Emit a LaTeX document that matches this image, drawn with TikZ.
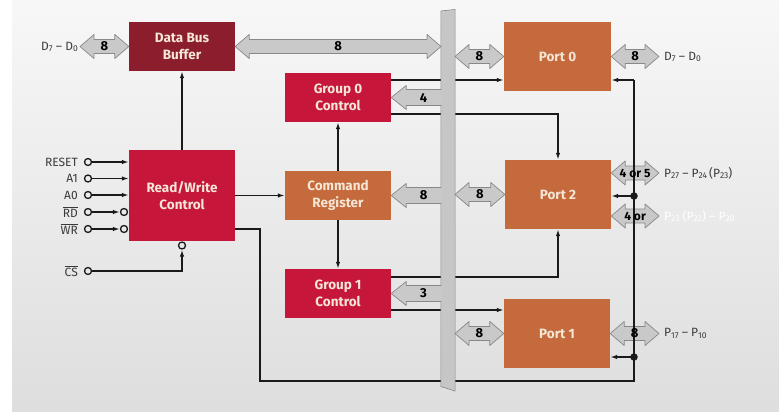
\documentclass[tikz,border=0pt]{standalone}
\usepackage{fontspec}
\setmainfont{Fira Sans}
\usetikzlibrary{calc,arrows.meta}
\definecolor{dbbred}{HTML}{8C1D2C}
\definecolor{crim}{HTML}{C6173B}
\definecolor{ornge}{HTML}{C46A3C}
\definecolor{cream}{HTML}{F6E6D6}
\definecolor{arrgray}{HTML}{C9C9C9}
\definecolor{arrline}{HTML}{888888}
\definecolor{busgray}{HTML}{C6C6C6}
\definecolor{labgray}{HTML}{3A3A3A}
\definecolor{lnblack}{HTML}{1A1A1A}
\pgfdeclarelayer{fg}
\pgfsetlayers{main,fg}
\newcommand\sub[1]{\raisebox{-0.2ex}{\fontsize{8.5}{9}\selectfont#1}}
\tikzset{
  box/.style={rectangle, inner sep=0pt, minimum width=106pt, text=cream, align=center,
    font=\fontsize{13.5}{17.5}\selectfont\bfseries},
  ln/.style={draw=lnblack, line width=1.4pt, -{Latex[length=7pt,width=4.5pt]}},
  plain/.style={draw=lnblack, line width=1.4pt},
  fat/.style={fill=arrgray, draw=arrline, line width=0.7pt, line join=round},
  fatlab/.style={inner sep=0pt, font=\fontsize{13}{13}\selectfont\bfseries, text=black},
  smalllab/.style={inner sep=0pt, font=\fontsize{12}{12}\selectfont\bfseries, text=black},
  lab/.style={inner sep=0pt, font=\fontsize{12}{14}\selectfont, text=labgray},
  pinc/.style={circle, draw=lnblack, line width=1.3pt, inner sep=0pt, minimum size=7pt},
  dotc/.style={circle, fill=lnblack, inner sep=0pt, minimum size=7.5pt}
}
\newcommand\fatdbl[5][fatlab]{%
  \path[fat] let \p1=(#2), \p2=(#3) in
    (\x1,\y1) -- (\x1+14pt,\y1+12pt) -- (\x1+14pt,\y1+7pt) -- (\x2-14pt,\y1+7pt)
    -- (\x2-14pt,\y1+12pt) -- (\x2,\y1) -- (\x2-14pt,\y1-12pt) -- (\x2-14pt,\y1-7pt)
    -- (\x1+14pt,\y1-7pt) -- (\x1+14pt,\y1-12pt) -- cycle;
  \begin{pgfonlayer}{fg}\node[#1] (#4) at ($(#2)!0.5!(#3)$) {#5};\end{pgfonlayer}}
\newcommand\fatsgl[4]{%
  \path[fat] let \p1=(#1), \p2=(#2) in
    (\x1+3pt,\y1+8pt) -- (\x2+15pt,\y1+8pt) -- (\x2+15pt,\y1+12pt) -- (\x2,\y1)
    -- (\x2+15pt,\y1-12pt) -- (\x2+15pt,\y1-8pt) -- (\x1+3pt,\y1-8pt) -- cycle;
  \begin{pgfonlayer}{fg}\node[fatlab] (#3) at ($(#1)!0.5!(#2)+(7.5,0)$) {#4};\end{pgfonlayer}}
\begin{document}
\begin{tikzpicture}[x=1pt,y=-1pt]
\useasboundingbox (0,0) rectangle (779,412);
\fill[white] (0,0) rectangle (779,412);
\shade[top color=black!3, bottom color=black!13] (12,0) rectangle (779,412);

% boxes
\node[box, fill=dbbred, minimum height=49pt] (DBB) at (182,46.5) {Data Bus\\Buffer};
\node[box, fill=crim, minimum height=91pt] (RW) at (182,195.5) {Read/Write\\Control};
\node[box, fill=crim, minimum height=49pt] (G0) at (338,97.5) {Group 0\\Control};
\node[box, fill=ornge, minimum height=49pt] (CR) at (338,195.5) {Command\\Register};
\node[box, fill=crim, minimum height=49pt] (G1) at (338,293.5) {Group 1\\Control};
\node[box, fill=ornge, minimum height=69pt, minimum width=107pt] (P0) at (557.5,56.5) {Port 0};
\node[box, fill=ornge, minimum height=69pt] (P2) at (558,194.5) {Port 2};
\node[box, fill=ornge, minimum height=69pt] (P1) at (557,333.5) {Port 1};

% helper coordinates
\coordinate (busL) at (441,0);
\coordinate (busR) at (455,0);
\coordinate (Xout) at (659,0);
\coordinate (Xin) at (80,46.5);
\coordinate (X260) at (260,0);
\coordinate (L80) at (0,80);
\coordinate (L114) at (0,114);
\coordinate (L229) at (0,229);
\coordinate (L277) at (0,277);
\coordinate (L310) at (0,310);
\coordinate (Y173) at (0,173);
\coordinate (Y216) at (0,216);
\coordinate (Vtop) at (634,80);
\coordinate (Vbot) at (634,381);

% inputs
\node[pinc] (rst) at (88,162) {};
\node[pinc] (a1) at (88,178.5) {};
\node[pinc] (a0) at (88,195) {};
\node[pinc] (rd) at (88,212) {};
\node[pinc] (wr) at (88,229) {};
\node[pinc] (rdb) at (124,212) {};
\node[pinc] (wrb) at (124,229) {};
\node[pinc] (cs) at (88,271) {};
\node[pinc] (csb) at (182,245.5) {};
\node[lab, anchor=east] (trst) at (78,162) {RESET};
\node[lab, anchor=east] (ta1) at (78,178.5) {A1};
\node[lab, anchor=east] (ta0) at (78,195) {A0};
\node[lab, anchor=east] (trd) at (78,212) {$\overline{\mbox{RD}}$};
\node[lab, anchor=east] (twr) at (78,229) {$\overline{\mbox{WR}}$};
\node[lab, anchor=east] (tcs) at (78,271) {$\overline{\mbox{CS}}$};
\draw[ln] (rst) -- (RW.west |- rst);
\draw[ln] (a1) -- (RW.west |- a1);
\draw[ln] (a0) -- (RW.west |- a0);
\draw[ln] (rd) -- (rdb);
\draw[ln] (wr) -- (wrb);
\draw[ln] (cs) -| (csb);

% internal connectors
\draw[ln] (RW.north) -- (DBB.south);
\draw[ln] (RW.east) -- (CR.west);
\draw[ln] (CR.north) -- (G0.south);
\draw[ln] (CR.south) -- (G1.north);
\draw[ln] (G0.east |- L80) -- (P0.west |- L80);
\draw[ln] (G0.east |- L114) -| (P2.north);
\draw[ln] (G1.east |- L277) -| (P2.south);
\draw[ln] (G1.east |- L310) -- (P1.west |- L310);
\draw[plain] (RW.east |- L229) -| (X260 |- Vbot) -- (Vbot) -- (Vtop);

% bus
\path[fill=busgray, draw=arrline, line width=0.7pt] (441,11) -- (455,9.5) -- (455,391) -- (441,386.5) -- cycle;
\fatsgl{busL |- G0.east}{G0.east}{b4}{4}
\fatsgl{busL |- CR.east}{CR.east}{b8c}{8}
\fatsgl{busL |- G1.east}{G1.east}{b3}{3}
\fill[busgray] (441.35,11.6) -- (454.65,10.1) -- (454.65,390.4) -- (441.35,385.9) -- cycle;

% double fat arrows
\fatdbl{Xin}{DBB.west}{bd}{8}
\fatdbl{DBB.east}{busL |- DBB.east}{bbig}{8}
\fatdbl{busR |- P0.west}{P0.west}{bp0}{8}
\fatdbl{busR |- P2.west}{P2.west}{bp2}{8}
\fatdbl{busR |- P1.west}{P1.west}{bp1}{8}
\fatdbl{P0.east}{Xout |- P0.east}{op0}{8}
\fatdbl[smalllab]{P2.east |- Y173}{Xout |- Y173}{op2a}{4 or 5}
\fatdbl[smalllab]{P2.east |- Y216}{Xout |- Y216}{op2b}{4 or}
\fatdbl{P1.east}{Xout |- P1.east}{op1}{8}

% right side control lines
\draw[plain, -] (Vtop) -- (Vbot);
\draw[ln] (Vtop) -- (P0.east |- Vtop);
\node[dotc] (d2) at (634,196) {};
\node[dotc] (d1) at (634,357) {};
\draw[ln] (d2.center) -- (P2.east |- d2);
\draw[ln] (d1.center) -- (P1.east |- d1);

% outer labels
\node[lab, anchor=east] (lD) at (78,47) {D\sub{7} – D\sub{0}};
\node[lab, anchor=west] (rD) at (664,57) {D\sub{7} – D\sub{0}};
\node[lab, anchor=west] (rP2a) at (664,173) {P\sub{27} – P\sub{24}\,(P\sub{23})};
\node[lab, anchor=west, text=white] (rP2b) at (664,216) {P\sub{23} (P\sub{22}) – P\sub{20}};
\node[lab, anchor=west] (rP1) at (664,333.5) {P\sub{17} – P\sub{10}};
\end{tikzpicture}
\end{document}
